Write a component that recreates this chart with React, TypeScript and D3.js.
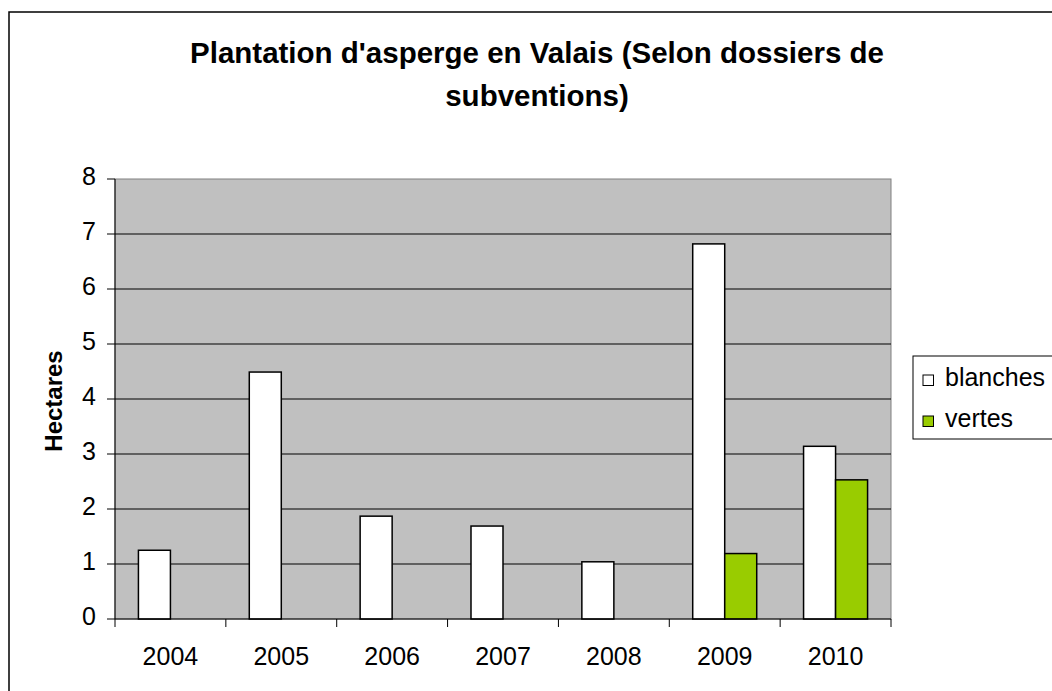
import React from "react";
import * as d3 from "d3";

const years = ["2004", "2005", "2006", "2007", "2008", "2009", "2010"];
const seriesNames = ["blanches", "vertes"];
const blanches = [1.25, 4.49, 1.87, 1.69, 1.04, 6.82, 3.14];
const vertes: (number | null)[] = [null, null, null, null, null, 1.19, 2.53];
const yTicks = [0, 1, 2, 3, 4, 5, 6, 7, 8];
const colors: Record<string, string> = { blanches: "#FFFFFF", vertes: "#99CC00" };
const titleLines = ["Plantation d'asperge en Valais (Selon dossiers de", "subventions)"];

const W = 1052;
const H = 691;
const plot = { left: 115, right: 891, top: 179, bottom: 619 };
const FONT = "Liberation Sans, Arial, sans-serif";

export default function App() {
  const x0 = d3.scaleBand<string>().domain(years).range([plot.left, plot.right]).paddingInner(0).paddingOuter(0);
  const x1 = d3
    .scaleBand<string>()
    .domain(seriesNames)
    .range([0, x0.bandwidth()])
    .paddingInner(0)
    .paddingOuter(0.732);
  const y = d3.scaleLinear().domain([0, 8]).range([plot.bottom, plot.top]);

  const data: Record<string, (number | null)[]> = { blanches, vertes };
  const boundaries = years.map((yr) => x0(yr)!).concat([plot.right]);

  return (
    <svg width={W} height={H} style={{ position: "absolute", left: 0, top: 0, background: "#fff" }}>
      <rect x={0} y={0} width={W} height={H} fill="#fff" />
      {/* outer chart border */}
      <rect x={9} y={12} width={W + 20} height={H + 20} fill="none" stroke="#000" strokeWidth={1.5} />

      {/* title */}
      {titleLines.map((t, i) => (
        <text
          key={i}
          x={537}
          y={63 + i * 43}
          textAnchor="middle"
          fontFamily={FONT}
          fontWeight="bold"
          fontSize={29.5}
          fill="#000"
        >
          {t}
        </text>
      ))}

      {/* plot area */}
      <rect
        x={plot.left}
        y={plot.top}
        width={plot.right - plot.left}
        height={plot.bottom - plot.top}
        fill="#C0C0C0"
        stroke="#808080"
        strokeWidth={1}
      />
      {yTicks
        .filter((t) => t > 0 && t < 8)
        .map((t) => (
          <line key={t} x1={plot.left} x2={plot.right} y1={y(t)} y2={y(t)} stroke="#000" strokeWidth={1} />
        ))}

      {/* bars */}
      {years.map((yr, i) =>
        seriesNames.map((s) => {
          const v = data[s][i];
          if (v == null) return null;
          const bx = x0(yr)! + x1(s)!;
          return (
            <rect
              key={yr + s}
              x={bx}
              y={y(v)}
              width={x1.bandwidth()}
              height={y(0) - y(v)}
              fill={colors[s]}
              stroke="#000"
              strokeWidth={1.5}
            />
          );
        })
      )}

      {/* axes */}
      <line x1={plot.left} x2={plot.left} y1={plot.top} y2={plot.bottom} stroke="#000" strokeWidth={1} />
      <line x1={plot.left} x2={plot.right} y1={plot.bottom} y2={plot.bottom} stroke="#000" strokeWidth={1} />
      {yTicks.map((t) => (
        <g key={t}>
          <line x1={plot.left - 8} x2={plot.left} y1={y(t)} y2={y(t)} stroke="#000" strokeWidth={1} />
          <text x={96} y={y(t) + 6} textAnchor="end" fontFamily={FONT} fontSize={25} fill="#000">
            {t}
          </text>
        </g>
      ))}
      {boundaries.map((bx, i) => (
        <line key={i} x1={bx} x2={bx} y1={plot.bottom} y2={plot.bottom + 8} stroke="#000" strokeWidth={1} />
      ))}
      {years.map((yr) => (
        <text
          key={yr}
          x={x0(yr)! + x0.bandwidth() / 2}
          y={665}
          textAnchor="middle"
          fontFamily={FONT}
          fontSize={25}
          fill="#000"
        >
          {yr}
        </text>
      ))}

      {/* y axis title */}
      <text
        transform={`translate(62,401) rotate(-90)`}
        textAnchor="middle"
        fontFamily={FONT}
        fontWeight="bold"
        fontSize={24}
        fill="#000"
      >
        Hectares
      </text>

      {/* legend */}
      <rect x={913} y={356} width={W} height={83} fill="#fff" stroke="#000" strokeWidth={1} />
      {seriesNames.map((s, i) => (
        <g key={s}>
          <rect x={923} y={375 + i * 41} width={10.5} height={10.5} fill={colors[s]} stroke="#000" strokeWidth={1} />
          <text x={945} y={386 + i * 41} fontFamily={FONT} fontSize={25} fill="#000">
            {s}
          </text>
        </g>
      ))}
    </svg>
  );
}
